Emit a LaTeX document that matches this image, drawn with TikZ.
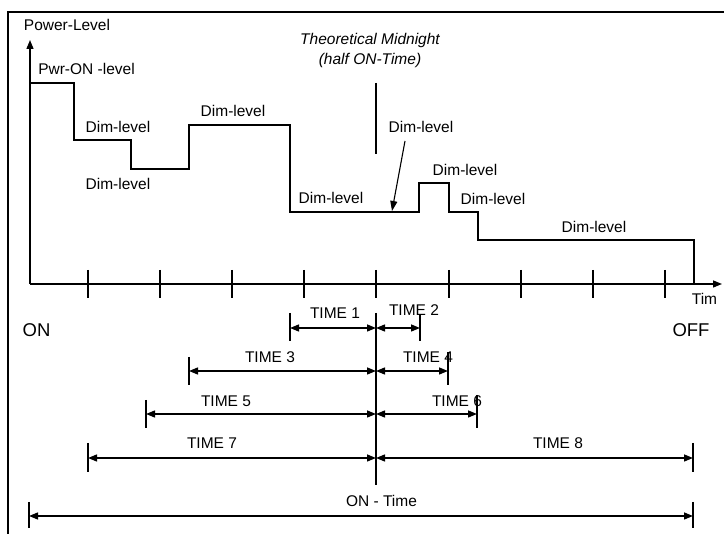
\documentclass[tikz,border=0pt]{standalone}
\usepackage{fontspec}
\setmainfont{Liberation Sans}
\usetikzlibrary{arrows.meta}
\pgfdeclarelayer{edgelayer}
\pgfdeclarelayer{nodelayer}
\pgfsetlayers{edgelayer,nodelayer,main}
\tikzstyle{boxline}=[draw=black, line width=2pt]
\tikzstyle{axisline}=[draw=black, line width=1.4pt, -{Triangle[length=9pt,width=7pt]}]
\tikzstyle{tickline}=[draw=black, line width=1.2pt]
\tikzstyle{powerline}=[draw=black, line width=2.4pt, line join=miter]
\tikzstyle{thinline}=[draw=black, line width=1.1pt]
\tikzstyle{dimline}=[draw=black, line width=1.4pt, {Triangle[length=9pt,width=7pt]}-{Triangle[length=9pt,width=7pt]}]
\tikzstyle{txt}=[inner sep=0pt, text height=11pt, text depth=0pt, font=\fontsize{15.5}{18}\selectfont]
\tikzstyle{bigtxt}=[inner sep=0pt, text height=13.5pt, text depth=0pt, font=\fontsize{18.5}{22}\selectfont]

\begin{document}
\begin{tikzpicture}[x=1pt, y=-1pt]
				\useasboundingbox (0, 0) rectangle (724, 534);
				\begin{pgfonlayer}{nodelayer}
					% frame and axes
					\coordinate (f1) at (8, 534);
					\coordinate (f2) at (8, 12);
					\coordinate (f3) at (724, 12);
					\coordinate (0) at (30, 284);
					\coordinate (y) at (30, 40);
					\coordinate (x) at (722, 284);
					% ticks
					\coordinate (t1a) at (88, 270);
					\coordinate (t1b) at (88, 298);
					\coordinate (t2a) at (160, 270);
					\coordinate (t2b) at (160, 298);
					\coordinate (t3a) at (232, 270);
					\coordinate (t3b) at (232, 298);
					\coordinate (t4a) at (304, 270);
					\coordinate (t4b) at (304, 298);
					\coordinate (t5a) at (376, 270);
					\coordinate (t5b) at (376, 298);
					\coordinate (t6a) at (449, 270);
					\coordinate (t6b) at (449, 298);
					\coordinate (t7a) at (521, 270);
					\coordinate (t7b) at (521, 298);
					\coordinate (t8a) at (593, 270);
					\coordinate (t8b) at (593, 298);
					\coordinate (t9a) at (665, 270);
					\coordinate (t9b) at (665, 298);
					% power level
					\coordinate (1) at (30, 83);
					\coordinate (2) at (74, 83);
					\coordinate (3) at (74, 140);
					\coordinate (4) at (131, 140);
					\coordinate (5) at (131, 169);
					\coordinate (6) at (189, 169);
					\coordinate (7) at (189, 125);
					\coordinate (8) at (290, 125);
					\coordinate (9) at (290, 212);
					\coordinate (10) at (419, 212);
					\coordinate (11) at (419, 183);
					\coordinate (12) at (449, 183);
					\coordinate (13) at (449, 212);
					\coordinate (14) at (478, 212);
					\coordinate (15) at (478, 240);
					\coordinate (16) at (694, 240);
					\coordinate (17) at (694, 284);
					% midnight
					\coordinate (m1) at (376, 83);
					\coordinate (m2) at (376, 154);
					\coordinate (a1) at (405, 141);
					\coordinate (a2) at (392, 211);
					% times
					\coordinate (v1) at (376, 313);
					\coordinate (v2) at (376, 485);
					\coordinate (d1a) at (290, 313);
					\coordinate (d1b) at (290, 341);
					\coordinate (d1) at (290, 328);
					\coordinate (c1) at (376, 328);
					\coordinate (d2a) at (420, 315);
					\coordinate (d2b) at (420, 341);
					\coordinate (d2) at (420, 328);
					\coordinate (d3a) at (189, 357);
					\coordinate (d3b) at (189, 385);
					\coordinate (d3) at (189, 371);
					\coordinate (c3) at (376, 371);
					\coordinate (d4a) at (448, 352);
					\coordinate (d4b) at (448, 385);
					\coordinate (d4) at (448, 371);
					\coordinate (d5a) at (146, 400);
					\coordinate (d5b) at (146, 428);
					\coordinate (d5) at (146, 414);
					\coordinate (c5) at (376, 414);
					\coordinate (d6a) at (477, 395);
					\coordinate (d6b) at (477, 428);
					\coordinate (d6) at (477, 414);
					\coordinate (d7a) at (88, 443);
					\coordinate (d7b) at (88, 472);
					\coordinate (d7) at (88, 458);
					\coordinate (c7) at (376, 458);
					\coordinate (d8a) at (693, 443);
					\coordinate (d8b) at (693, 472);
					\coordinate (d8) at (693, 458);
					\coordinate (e1a) at (29, 502);
					\coordinate (e1b) at (29, 528);
					\coordinate (e1) at (29, 516);
					\coordinate (e2a) at (693, 502);
					\coordinate (e2b) at (693, 528);
					\coordinate (e2) at (693, 516);
					% texts
					\node [style=txt] (n0) at (67, 25) {Power-Level};
					\node [style=txt] (n1) at (86.5, 69) {Pwr-ON -level};
					\node [style=txt] (n2) at (118, 127) {Dim-level};
					\node [style=txt] (n3) at (118, 184) {Dim-level};
					\node [style=txt] (n4) at (233, 111) {Dim-level};
					\node [style=txt] (n5) at (331, 198) {Dim-level};
					\node [style=txt] (n6) at (421, 127) {Dim-level};
					\node [style=txt] (n7) at (465, 170) {Dim-level};
					\node [style=txt] (n8) at (493, 199) {Dim-level};
					\node [style=txt] (n9) at (594, 227) {Dim-level};
					\node [style=txt, font=\fontsize{15.5}{18}\selectfont\itshape] (n10) at (370, 39) {Theoretical Midnight};
					\node [style=txt, font=\fontsize{15.5}{18}\selectfont\itshape] (n11) at (370, 59) {(half ON-Time)};
					\node [style=txt] (n12) at (704.5, 299) {Tim};
					\node [style=bigtxt] (n13) at (36.5, 330) {ON};
					\node [style=bigtxt] (n14) at (691, 330) {OFF};
					\node [style=txt] (n15) at (335, 313) {TIME 1};
					\node [style=txt] (n16) at (414, 310) {TIME 2};
					\node [style=txt] (n17) at (270, 357) {TIME 3};
					\node [style=txt] (n18) at (428, 357) {TIME 4};
					\node [style=txt] (n19) at (226, 401) {TIME 5};
					\node [style=txt] (n20) at (457, 401) {TIME 6};
					\node [style=txt] (n21) at (212, 443) {TIME 7};
					\node [style=txt] (n22) at (558, 443) {TIME 8};
					\node [style=txt] (n23) at (381.5, 501) {ON - Time};
				\end{pgfonlayer}
				\begin{pgfonlayer}{edgelayer}
					\draw [style=boxline] (f1) -- (f2) -- (f3);
					\draw [style=axisline] (0) to (y);
					\draw [style=axisline] (0) to (x);
					\draw [style=tickline] (t1a) to (t1b);
					\draw [style=tickline] (t2a) to (t2b);
					\draw [style=tickline] (t3a) to (t3b);
					\draw [style=tickline] (t4a) to (t4b);
					\draw [style=tickline] (t5a) to (t5b);
					\draw [style=tickline] (t6a) to (t6b);
					\draw [style=tickline] (t7a) to (t7b);
					\draw [style=tickline] (t8a) to (t8b);
					\draw [style=tickline] (t9a) to (t9b);
					\draw [style=powerline] (1) -- (2) -- (3) -- (4) -- (5) -- (6) -- (7) -- (8) -- (9) -- (10) -- (11) -- (12) -- (13) -- (14) -- (15) -- (16) -- (17);
					\draw [style=thinline] (m1) to (m2);
					\draw [style=thinline, -{Triangle[length=10pt,width=7pt]}] (a1) to (a2);
					\draw [style=tickline] (v1) to (v2);
					\draw [style=tickline] (d1a) to (d1b);
					\draw [style=tickline] (d2a) to (d2b);
					\draw [style=tickline] (d3a) to (d3b);
					\draw [style=tickline] (d4a) to (d4b);
					\draw [style=tickline] (d5a) to (d5b);
					\draw [style=tickline] (d6a) to (d6b);
					\draw [style=tickline] (d7a) to (d7b);
					\draw [style=tickline] (d8a) to (d8b);
					\draw [style=tickline] (e1a) to (e1b);
					\draw [style=tickline] (e2a) to (e2b);
					\draw [style=dimline] (d1) to (c1);
					\draw [style=dimline] (c1) to (d2);
					\draw [style=dimline] (d3) to (c3);
					\draw [style=dimline] (c3) to (d4);
					\draw [style=dimline] (d5) to (c5);
					\draw [style=dimline] (c5) to (d6);
					\draw [style=dimline] (d7) to (c7);
					\draw [style=dimline] (c7) to (d8);
					\draw [style=dimline] (e1) to (e2);
				\end{pgfonlayer}
			\end{tikzpicture}
\end{document}
